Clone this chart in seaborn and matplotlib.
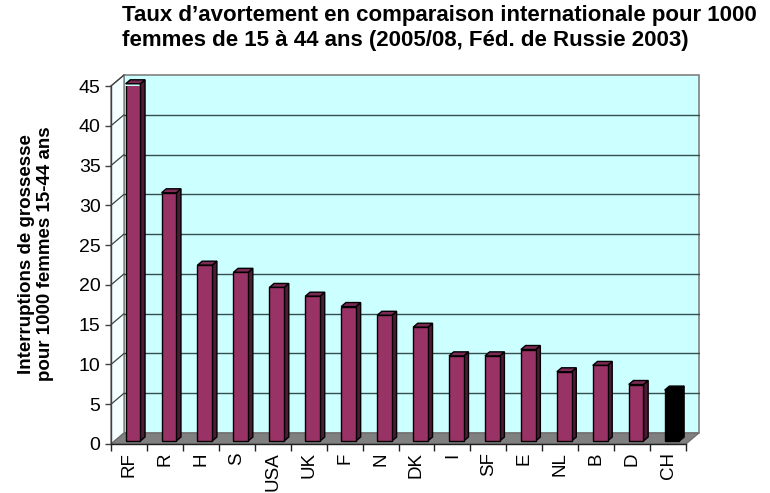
import matplotlib
matplotlib.use("Agg")
import matplotlib.pyplot as plt
import seaborn as sns
import pandas as pd
from matplotlib.patches import Polygon

countries = ["RF", "R", "H", "S", "USA", "UK", "F", "N", "DK", "I", "SF", "E", "NL", "B", "D", "CH"]
rates = [44.9, 31.2, 22.1, 21.2, 19.3, 18.2, 16.9, 15.8, 14.3, 10.7, 10.7, 11.5, 8.7, 9.5, 7.1, 6.4]
highlight = "CH"
yticks = [0, 5, 10, 15, 20, 25, 30, 35, 40, 45]
title = "Taux d\u2019avortement en comparaison internationale pour 1000\nfemmes de 15 \u00e0 44 ans (2005/08, F\u00e9d. de Russie 2003)"
ylabel = "Interruptions de grossesse\npour 1000 femmes 15-44 ans"

sns.set_theme(style="white")
plt.rcParams['font.family'] = ['Liberation Sans', 'DejaVu Sans']
plt.rcParams['text.color'] = 'black'
plt.rcParams['xtick.labelcolor'] = 'black'
plt.rcParams['ytick.labelcolor'] = 'black'

W, H = 770, 493
fig = plt.figure(figsize=(W / 100, H / 100), dpi=100)
ax = fig.add_axes([111 / W, 49 / H, 575 / W, 358 / H])

df = pd.DataFrame({"pays": countries, "taux": rates})
front = "#993366"
side = "#4f1a35"
topc = "#7d2a55"
palette = {c: ("#000000" if c == highlight else front) for c in countries}
sns.barplot(data=df, x="pays", y="taux", hue="pays", palette=palette, legend=False, saturation=1,
            width=0.41, edgecolor="black", linewidth=1.0, ax=ax, zorder=5)

n = len(countries)
ax.set_xlim(-0.5, n - 0.5)
ax.set_ylim(yticks[0], yticks[-1])

sx = 575 / n
sy = 358 / (yticks[-1] - yticks[0])
Dx, Dy = 13 / sx, 11 / sy        # full depth
fx, fy = 4 / sx, 3 / sy          # bar front-plane offset
bx, by = 4.7 / sx, 4 / sy        # bar depth

x0, x1 = -0.5, n - 0.5
ymax = yticks[-1]

# back wall
ax.add_patch(Polygon([(x0 + Dx, Dy), (x1 + Dx, Dy), (x1 + Dx, ymax + Dy), (x0 + Dx, ymax + Dy)],
                     closed=True, facecolor="#ccffff", edgecolor="#808080", lw=1.2,
                     zorder=0, clip_on=False))
# left wall
ax.add_patch(Polygon([(x0, 0), (x0 + Dx, Dy), (x0 + Dx, ymax + Dy), (x0, ymax)],
                     closed=True, facecolor="#f4ffff", edgecolor="#808080", lw=1.0,
                     zorder=0.5, clip_on=False))
# gridlines
for t in yticks[1:-1]:
    ax.plot([x0 + Dx, x1 + Dx], [t + Dy, t + Dy], color="#354f4f", lw=1.0, zorder=1, clip_on=False)
for t in yticks[1:]:
    ax.plot([x0, x0 + Dx], [t, t + Dy], color="#404040", lw=0.9, zorder=1, clip_on=False)
# floor
ax.add_patch(Polygon([(x0, 0), (x1, 0), (x1 + Dx, Dy), (x0 + Dx, Dy)],
                     closed=True, facecolor="#808080", edgecolor="#6a6a6a", lw=0.8,
                     zorder=2, clip_on=False))

# 3D faces for bars
for p in list(ax.patches):
    if p.get_zorder() != 5:
        continue
    xl = p.get_x() + fx
    w = p.get_width()
    h = p.get_height()
    p.set_x(xl)
    p.set_y(fy)
    is_hi = abs(p.get_facecolor()[0]) < 0.05
    sc = "#000000" if is_hi else side
    tc = "#000000" if is_hi else topc
    ax.add_patch(Polygon([(xl + w, fy), (xl + w, fy + h), (xl + w + bx, fy + h + by), (xl + w + bx, fy + by)],
                         closed=True, facecolor=sc, edgecolor="black", lw=1.0, zorder=4, clip_on=False))
    ax.add_patch(Polygon([(xl, fy + h), (xl + w, fy + h), (xl + w + bx, fy + h + by), (xl + bx, fy + h + by)],
                         closed=True, facecolor=tc, edgecolor="black", lw=1.0, zorder=4, clip_on=False))

for s in ["top", "right"]:
    ax.spines[s].set_visible(False)
ax.spines["left"].set_color("#404040")
ax.spines["bottom"].set_color("#202020")
ax.spines["left"].set_linewidth(1.0)
ax.spines["bottom"].set_linewidth(1.0)
ax.spines["left"].set_zorder(6)
ax.spines["bottom"].set_zorder(6)
ax.patch.set_alpha(0)

ax.set_yticks(yticks)
ax.set_yticklabels([str(t) for t in yticks], fontsize=14)
ax.tick_params(axis="y", which="major", direction="out", length=4.5, width=1, color="#404040",
               labelcolor="black", pad=3, left=True)
ax.set_xticks(range(n))
ax.set_xticklabels(countries, rotation=90, fontsize=13.5)
ax.set_xticks([i - 0.5 for i in range(n + 1)], minor=True)
ax.tick_params(axis="x", which="major", length=0, pad=6, labelcolor="black")
ax.tick_params(axis="x", which="minor", direction="out", length=5, width=1, color="#202020", bottom=True)
ax.set_xlabel("")
ax.set_ylabel("")

fig.text(36 / W, 1 - 254 / H, ylabel, rotation=90, ha="center", va="center", color="black",
         multialignment="center", fontsize=13.5, fontweight="bold", linespacing=1.2)
fig.text(122 / W, 1 - 5 / H, title, ha="left", va="top", color="black",
         fontsize=16, fontweight="bold", linespacing=1.25)

fig.savefig("out.png", dpi=100)
